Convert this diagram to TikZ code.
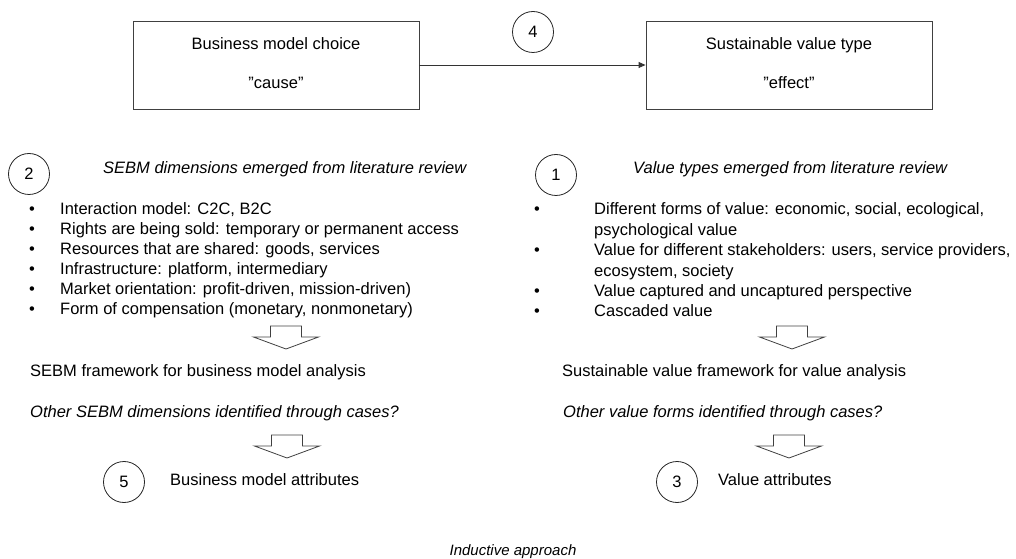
\documentclass[tikz,border=0pt]{standalone}
\usepackage{fontspec}
\setmainfont{Liberation Sans}
\usetikzlibrary{arrows.meta}
\begin{document}
\begin{tikzpicture}[x=1bp,y=-1bp,
  every node/.style={inner sep=0pt, font=\fontsize{16.5bp}{19bp}\selectfont},
  lbl/.style={anchor=base west},
  ctr/.style={anchor=base},
  it/.style={font=\fontsize{16.5bp}{19bp}\selectfont\itshape},
  boxnode/.style={draw=black!75, line width=0.9bp, minimum width=286bp, minimum height=88bp},
  num/.style={draw=black!85, circle, line width=0.8bp, minimum size=41bp},
  blockarrow/.pic={\draw[black!75, line width=0.8bp, line join=miter]
      (-15.5,0) -- (15.5,0) -- (15.5,11) -- (32.5,11) -- (0,23) -- (-32.5,11) -- (-15.5,11) -- cycle;}
]
\useasboundingbox (0,0) rectangle (1016,559);

% cause and effect boxes
\node[boxnode] (cause) at (276,65) {};
\node[ctr] (causeA) at (276,50) {Business model choice};
\node[ctr] (causeB) at (276,89) {”cause”};
\node[boxnode] (effect) at (789,65) {};
\node[ctr] (effectA) at (789,50) {Sustainable value type};
\node[ctr] (effectB) at (789,89) {”effect”};
\draw[black!80, line width=0.9bp, -{Triangle[length=7bp,width=6bp]}] (cause.east) -- (effect.west);
\node[num] (n4) at (533,32) {4};

% left column: business model dimensions
\node[num] (n2) at (29,174) {2};
\node[lbl,it] (sebmhead) at (103,174) {SEBM dimensions emerged from literature review};
\foreach \t [count=\i from 0] in {%
  {Interaction model: C2C, B2C},
  {Rights are being sold: temporary or permanent access},
  {Resources that are shared: goods, services},
  {Infrastructure: platform, intermediary},
  {Market orientation: profit-driven, mission-driven)},
  {Form of compensation (monetary, nonmonetary)}} {
  \node[ctr] (lb\i) at (32,215+20*\i) {•};
  \node[lbl] (lt\i) at (60,215+20*\i) {\t};
}
\pic at (286,326) {blockarrow};
\node[lbl] (sebmfw) at (30,377) {SEBM framework for business model analysis};
\node[lbl,it] (sebmother) at (30,417) {Other SEBM dimensions identified through cases?};
\pic at (287,435) {blockarrow};
\node[num] (n5) at (124,482) {5};
\node[lbl] (bmattr) at (170,485) {Business model attributes};

% right column: value types
\node[num] (n1) at (556,175) {1};
\node[lbl,it] (valhead) at (633,174) {Value types emerged from literature review};
\node[ctr] (rb0) at (537,215) {•};
\node[lbl] (rt0) at (594,215) {Different forms of value: economic, social, ecological,};
\node[lbl] (rt0b) at (594,235.5) {psychological value};
\node[ctr] (rb1) at (537,256) {•};
\node[lbl] (rt1) at (594,256) {Value for different stakeholders: users, service providers,};
\node[lbl] (rt1b) at (594,276.5) {ecosystem, society};
\node[ctr] (rb2) at (537,297) {•};
\node[lbl] (rt2) at (594,297) {Value captured and uncaptured perspective};
\node[ctr] (rb3) at (537,317) {•};
\node[lbl] (rt3) at (594,317) {Cascaded value};
\pic at (792,326) {blockarrow};
\node[lbl] (valfw) at (562,377) {Sustainable value framework for value analysis};
\node[lbl,it] (valother) at (563,417) {Other value forms identified through cases?};
\pic at (789,435) {blockarrow};
\node[num] (n3) at (677,482) {3};
\node[lbl] (valattr) at (718,485) {Value attributes};

% bottom caption
\node[ctr,font=\fontsize{15bp}{18bp}\selectfont\itshape] (induct) at (513,555) {Inductive approach};
\end{tikzpicture}
\end{document}
